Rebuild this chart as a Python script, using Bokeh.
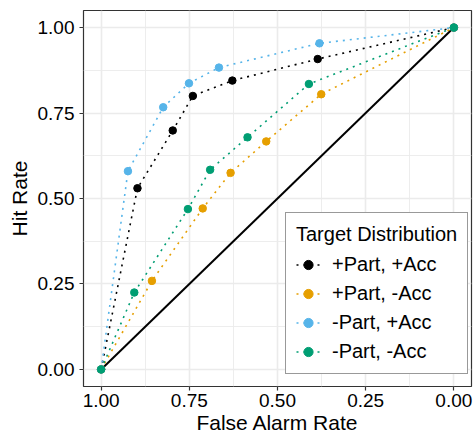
from bokeh.plotting import figure
from bokeh.models import Range1d, FixedTicker, Legend, LegendItem
from bokeh.embed import file_html
from bokeh.resources import INLINE

# Data (False Alarm Rate, Hit Rate) per target distribution
labels = ["+Part, +Acc", "+Part, -Acc", "-Part, +Acc", "-Part, -Acc"]
colors = ["#000000", "#E69F00", "#56B4E9", "#009E73"]

far_pp = [1.0, 0.897, 0.797, 0.740, 0.628, 0.386, 0.0]
hit_pp = [0.0, 0.530, 0.699, 0.800, 0.845, 0.908, 1.0]

far_pm = [1.0, 0.856, 0.712, 0.633, 0.532, 0.376, 0.0]
hit_pm = [0.0, 0.259, 0.471, 0.575, 0.667, 0.805, 1.0]

far_mp = [1.0, 0.924, 0.824, 0.751, 0.666, 0.381, 0.0]
hit_mp = [0.0, 0.580, 0.767, 0.837, 0.883, 0.954, 1.0]

far_mm = [1.0, 0.906, 0.754, 0.691, 0.585, 0.411, 0.0]
hit_mm = [0.0, 0.225, 0.469, 0.584, 0.679, 0.835, 1.0]

diag_x = [1.0, 0.0]
diag_y = [0.0, 1.0]

major_ticks = [0.0, 0.25, 0.5, 0.75, 1.0]
minor_ticks = [0.125, 0.375, 0.625, 0.875]
tick_labels = {0.0: "0.00", 0.25: "0.25", 0.5: "0.50", 0.75: "0.75", 1.0: "1.00"}
x_title = "False Alarm Rate"
y_title = "Hit Rate"

FONT = "Liberation Sans"

p = figure(width=474, height=438, output_backend="svg", toolbar_location=None,
           x_range=Range1d(1.05, -0.05), y_range=Range1d(-0.05, 1.05),
           min_border_left=83, min_border_right=3, min_border_top=10, min_border_bottom=52)
p.background_fill_color = "white"
p.border_fill_color = "white"
p.outline_line_color = "#333333"
p.outline_line_width = 1.2

for ax, lab in ((p.xaxis[0], x_title), (p.yaxis[0], y_title)):
    ax.ticker = FixedTicker(ticks=major_ticks, minor_ticks=minor_ticks)
    ax.major_label_overrides = tick_labels
    ax.axis_label = lab
    ax.axis_label_text_font = FONT
    ax.axis_label_text_font_size = "21px"
    ax.axis_label_text_font_style = "normal"
    ax.axis_label_text_color = "black"
    ax.major_label_text_font = FONT
    ax.major_label_text_font_size = "19px"
    ax.major_label_text_color = "black"
    ax.axis_line_color = None
    ax.major_tick_line_color = "#333333"
    ax.major_tick_line_width = 1.2
    ax.major_tick_in = 0
    ax.major_tick_out = 4
    ax.minor_tick_line_color = None

p.xaxis[0].major_label_standoff = 3
p.xaxis[0].axis_label_standoff = 1
p.yaxis[0].major_label_standoff = 5
p.yaxis[0].axis_label_standoff = 4

for g in (p.xgrid[0], p.ygrid[0]):
    g.grid_line_color = "#EBEBEB"
    g.grid_line_width = 1.6
    g.minor_grid_line_color = "#EBEBEB"
    g.minor_grid_line_width = 0.9

p.line(diag_x, diag_y, line_color="black", line_width=2)

series = [(far_pp, hit_pp), (far_pm, hit_pm), (far_mp, hit_mp), (far_mm, hit_mm)]
items = []
for (xs, ys), col, lab in zip(series, colors, labels):
    l = p.line(xs, ys, line_color=col, line_width=1.6, line_dash="2 5")
    s = p.scatter(xs, ys, size=7.5, fill_color=col, line_color=col)
    items.append(LegendItem(label=lab, renderers=[l, s]))

legend = Legend(items=items, title="Target Distribution", location=(202, 12))
legend.title_text_font = FONT
legend.title_text_font_size = "20px"
legend.title_text_font_style = "normal"
legend.title_text_color = "black"
legend.title_standoff = 7
legend.label_text_font = FONT
legend.label_text_font_size = "20px"
legend.label_text_color = "black"
legend.border_line_color = "#333333"
legend.border_line_width = 1.2
legend.background_fill_alpha = 1
legend.padding = 10
legend.spacing = 6
legend.glyph_width = 24
legend.glyph_height = 23
legend.label_height = 23
legend.label_standoff = 12
legend.margin = 0
p.add_layout(legend, "center")

open("out.html", "w").write(file_html(p, INLINE))
